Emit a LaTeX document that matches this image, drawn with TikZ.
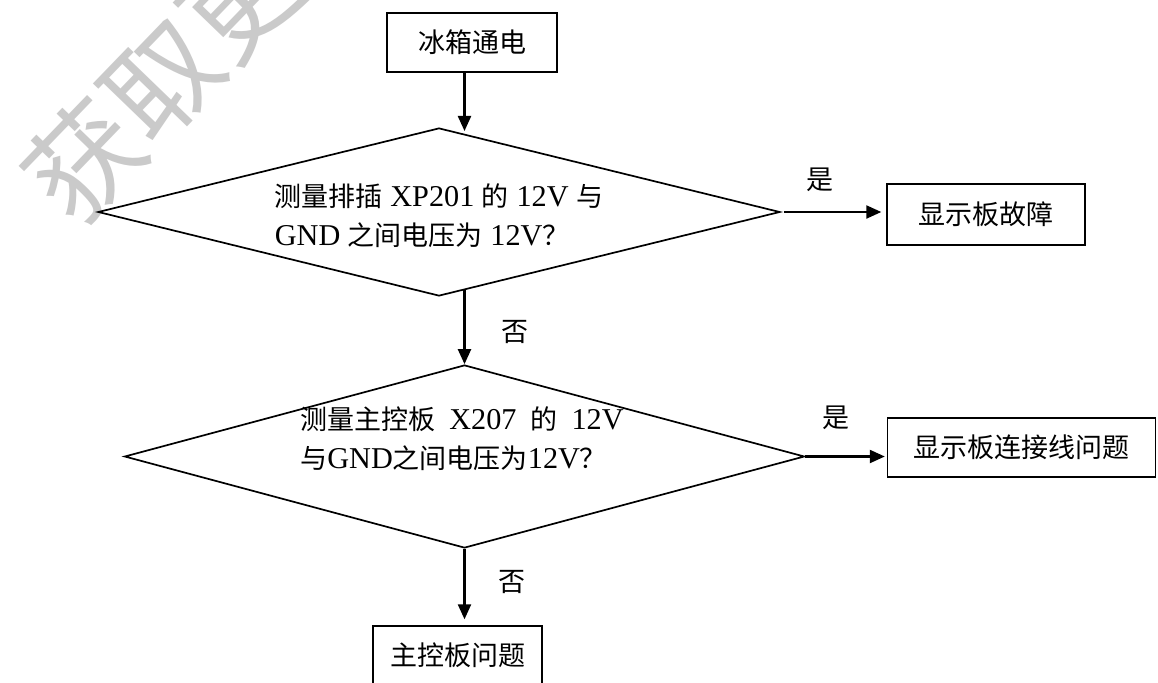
\documentclass[tikz,border=0pt]{standalone}
\usepackage{fontspec}
\setmainfont[Scale=1.12]{Liberation Serif}
\newfontfamily\cjk{Noto Sans CJK SC}
\usetikzlibrary{shapes.geometric,arrows.meta}
\definecolor{wm}{RGB}{202,202,202}
\begin{document}
\begin{tikzpicture}[x=1pt,y=-1pt,
  box/.style={draw, line width=1.4pt, inner sep=0pt, font=\cjk\fontsize{27}{30}\selectfont},
  dec/.style={draw, diamond, line width=1.7pt, inner sep=0pt},
  arr/.style={line width=2.2pt, -{Triangle[length=15pt,width=13pt]}},
  lbl/.style={font=\cjk\fontsize{27}{30}\selectfont},
  qtext/.style={align=left, inner sep=0pt, font=\fontsize{27}{39}\selectfont},
  wmark/.style={text=wm, rotate=46, inner sep=0pt, font=\cjk\fontsize{112}{112}\selectfont}
]
\useasboundingbox (0,0) rectangle (1158,682);
\clip (0,0) rectangle (1158,682);
\fill[white] (0,0) rectangle (1158,682);

% watermark
\node[wmark] (wmk) at (162,80) {获取更};

% boxes
\node[box, minimum width=170pt, minimum height=59pt] (b1) at (472,42.5) {冰箱通电};
\node[box, minimum width=198pt, minimum height=61pt] (r1) at (986,214.5) {显示板故障};
\node[box, minimum width=268pt, minimum height=59pt] (r2) at (1021.5,447.5) {显示板连接线问题};
\node[box, minimum width=169pt, minimum height=59pt] (b3) at (457.5,655.5) {主控板问题};

% decisions
\node[dec, minimum width=682pt, minimum height=168pt] (d1) at (439,212) {};
\node[dec, minimum width=680pt, minimum height=183pt] (d2) at (464.5,456.5) {};

\node[qtext] (q1) at (439,216) {{\cjk 测量排插} XP201 {\cjk 的} 12V {\cjk 与}\\GND {\cjk 之间电压为} 12V{\cjk ？}};
\node[qtext] (q2) at (462,439) {{\cjk 测量主控板}\hspace{14pt}X207\hspace{14pt}{\cjk 的}\hspace{14pt}12V\\{\cjk 与}GND{\cjk 之间电压为}12V{\cjk ？}};

% labels
\node[lbl] (y1) at (820,180) {是};
\node[lbl] (y2) at (836,418) {是};
\node[lbl] (n1) at (515,332) {否};
\node[lbl] (n2) at (512,582) {否};

% connectors
\coordinate (t1) at (464.5,131);
\coordinate (s2) at (464.5,289);
\draw[arr] (b1.south -| d2.north) -- (t1);
\draw[arr] (s2) -- (d2.north);
\draw[arr, shorten <=3pt, shorten >=5pt] (d1.east) -- (d1.east -| r1.west);
\draw[arr, shorten >=2pt] (d2.east) -- (d2.east -| r2.west);
\draw[arr, shorten >=6pt] (d2.south) -- (d2.south |- b3.north);
\end{tikzpicture}
\end{document}
